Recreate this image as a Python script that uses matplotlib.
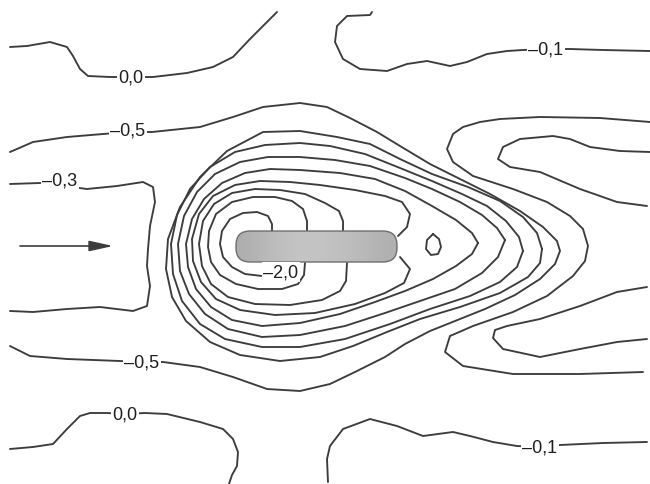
import matplotlib
matplotlib.use("Agg")
import matplotlib.pyplot as plt
import numpy as np
from matplotlib.patches import FancyBboxPatch

plt.rcParams['font.family'] = ['Liberation Sans', 'DejaVu Sans']

# contour lines (x, y in picture units, y downwards)
top_zero = [(10, 48), (27, 47), (50, 43), (67, 48), (73, 57), (80, 70), (88, 77), (110, 78),
            (131, 78), (153, 78), (187, 74), (213, 68), (233, 58), (250, 40), (267, 23), (277, 13)]
top_m01 = [(372, 13), (370, 16), (347, 17), (337, 27), (335, 43), (343, 60), (360, 70), (387, 72),
           (407, 65), (427, 62), (450, 67), (467, 63), (487, 55), (507, 52), (523, 51), (546, 50),
           (570, 50), (603, 51), (650, 52)]
minus05 = [(10, 153), (33, 143), (67, 138), (103, 135), (128, 133), (152, 133), (200, 128),
           (233, 118), (263, 108), (300, 104), (327, 108), (350, 119), (377, 133), (400, 147),
           (430, 165), (460, 180), (490, 195), (520, 212), (543, 228), (557, 242), (560, 252),
           (555, 265), (540, 280), (515, 296), (485, 310), (455, 322), (430, 332), (405, 345),
           (385, 358), (355, 373), (330, 385), (300, 392), (267, 390), (233, 378), (200, 368),
           (163, 363), (142, 363), (120, 362), (67, 360), (30, 357), (10, 347)]
minus03 = [(10, 185), (40, 184), (60, 183), (72, 188), (87, 190), (117, 187), (143, 183),
           (153, 188), (155, 203), (150, 227), (148, 250), (147, 267), (150, 287), (147, 307),
           (133, 312), (100, 308), (67, 310), (33, 313), (10, 312)]
minus20 = [(272, 233), (272, 225), (268, 217), (257, 213), (243, 214), (230, 220), (222, 232),
           (220, 245), (223, 258), (232, 268), (245, 275), (262, 277), (280, 274)]
ring2 = [(307, 233), (307, 222), (303, 210), (292, 202), (275, 198), (253, 198), (232, 203),
         (216, 215), (209, 232), (208, 248), (211, 263), (220, 276), (236, 285), (258, 290),
         (282, 290), (298, 285), (304, 276), (305, 264)]
ring3 = [(343, 233), (343, 222), (339, 212), (325, 204), (305, 195), (280, 191), (255, 190),
         (232, 194), (214, 205), (203, 222), (199, 245), (202, 267), (211, 285), (228, 298),
         (255, 305), (290, 306), (322, 301), (340, 292), (346, 282), (347, 264)]
ring4 = [(398, 237), (407, 228), (410, 215), (402, 203), (385, 197), (355, 191), (320, 186),
         (290, 183), (260, 182), (235, 186), (213, 197), (199, 215), (192, 240), (193, 262),
         (201, 283), (216, 300), (240, 311), (275, 316), (315, 314), (355, 305), (385, 294),
         (404, 284), (410, 270), (400, 258)]
ring5 = [(478, 244), (472, 234), (456, 221), (432, 207), (405, 192), (375, 180), (340, 174),
         (300, 171), (270, 170), (245, 174), (222, 184), (204, 200), (192, 220), (186, 245),
         (188, 268), (196, 290), (211, 308), (232, 321), (262, 327), (300, 324), (340, 315),
         (375, 303), (405, 292), (433, 280), (456, 267), (472, 255), (478, 244)]
ring6 = [(505, 241), (497, 229), (482, 216), (460, 203), (432, 190), (405, 179), (370, 167),
         (335, 161), (300, 158), (268, 158), (240, 163), (215, 175), (197, 193), (184, 217),
         (178, 245), (180, 272), (189, 295), (205, 315), (228, 330), (262, 338), (300, 336),
         (345, 327), (385, 314), (420, 302), (455, 290), (482, 274), (498, 258), (505, 241)]
ring7 = [(523, 252), (519, 238), (506, 222), (487, 207), (462, 195), (432, 182), (400, 169),
         (365, 155), (330, 147), (300, 144), (265, 146), (235, 153), (210, 168), (190, 190),
         (177, 216), (171, 245), (173, 275), (182, 302), (200, 325), (225, 340), (262, 348),
         (300, 348), (345, 340), (390, 325), (430, 310), (470, 297), (500, 283), (517, 268),
         (523, 252)]
ring8 = [(542, 250), (537, 234), (523, 218), (500, 202), (468, 188), (432, 175), (400, 160),
         (370, 145), (337, 138), (300, 132), (263, 133), (227, 152), (200, 178), (180, 208),
         (168, 240), (166, 270), (172, 298), (186, 322), (210, 343), (240, 356), (280, 362),
         (320, 358), (353, 347), (387, 333), (420, 320), (460, 308), (500, 294), (528, 278),
         (540, 264), (542, 250)]
blob = [(433, 235), (439, 240), (441, 248), (438, 255), (431, 256), (426, 250), (427, 241), (433, 235)]
s_line = [(650, 123), (600, 119), (540, 118), (500, 120), (480, 123), (463, 128), (453, 135),
          (447, 150), (453, 163), (473, 177), (513, 190), (547, 203), (570, 217), (583, 230),
          (588, 247), (585, 262), (573, 277), (547, 297), (513, 313), (473, 327), (450, 337),
          (445, 353), (463, 367), (513, 375), (580, 375), (643, 373)]
c_upper = [(650, 153), (620, 152), (590, 148), (570, 140), (553, 137), (520, 140), (503, 148),
           (498, 160), (510, 168), (540, 173), (580, 190), (617, 203), (647, 207)]
c_lower = [(647, 288), (617, 293), (580, 307), (540, 320), (507, 327), (495, 331), (493, 339),
           (503, 350), (540, 358), (580, 350), (617, 343), (647, 340)]
bot_zero = [(10, 450), (33, 448), (53, 445), (67, 430), (80, 417), (90, 414), (107, 414),
            (125, 415), (145, 414), (167, 415), (200, 423), (223, 430), (233, 440), (238, 453),
            (237, 467), (232, 476), (229, 485)]
bot_m01 = [(328, 483), (327, 460), (330, 447), (343, 430), (370, 420), (397, 427), (423, 437),
           (453, 433), (470, 437), (493, 443), (517, 447), (540, 448), (560, 446), (603, 444),
           (647, 443)]

lines = [top_zero, top_m01, minus05, minus03, minus20, ring2, ring3, ring4, ring5, ring6,
         ring7, ring8, blob, s_line, c_upper, c_lower, bot_zero, bot_m01]

# level labels and where they sit
label_text = ['0,0', '\u20130,5', '\u20130,3', '\u20132,0', '\u20130,5', '0,0', '\u20130,1', '\u20130,1']
label_xy = [(131, 78), (128, 131), (60, 181), (281, 273), (142, 363), (125, 415), (546, 50), (540, 448)]

# plate and flow arrow
plate = (236, 232, 161, 31)
arrow_from = (20, 247)
arrow_to = (113, 247)

fig = plt.figure(figsize=(6.5, 4.85), dpi=100)
ax = fig.add_axes([0, 0, 1, 1])
ax.set_xlim(0, 650)
ax.set_ylim(485, 0)
ax.axis('off')

ink = '#3c3c3c'
for pts in lines:
    xy = np.array(pts)
    ax.plot(xy[:, 0], xy[:, 1], color=ink, lw=1.35, solid_joinstyle='round',
            solid_capstyle='round', zorder=2)

for txt, (x, y) in zip(label_text, label_xy):
    ax.text(x, y, txt, fontsize=13, color='#1e1e1e', ha='center', va='center', zorder=4,
            bbox=dict(boxstyle='square,pad=0.1', fc='white', ec='none'))

px, py, pw, ph = plate
box = FancyBboxPatch((px, py), pw, ph, boxstyle='round,pad=0,rounding_size=14',
                     fc='none', ec='#6e6e6e', lw=1.0, zorder=3)
ax.add_patch(box)
shade = np.array([[0.68, 0.71, 0.74, 0.76, 0.77, 0.76, 0.75, 0.73, 0.71, 0.69]])
im = ax.imshow(shade, cmap='gray', vmin=0, vmax=1, extent=(px, px + pw, py + ph, py),
               aspect='auto', interpolation='bicubic', zorder=2.5)
im.set_clip_path(box)

ax.annotate('', xy=arrow_to, xytext=arrow_from,
            arrowprops=dict(arrowstyle='-|>,head_length=0.9,head_width=0.2', color=ink,
                            lw=1.2, shrinkA=0, shrinkB=0, mutation_scale=16))

fig.savefig('out.png', dpi=100)
